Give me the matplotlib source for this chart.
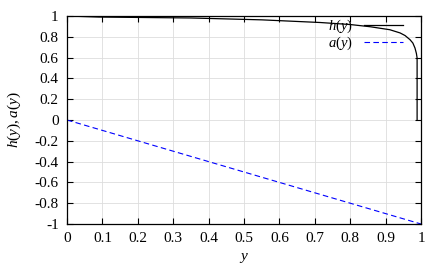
import numpy as np
import matplotlib
matplotlib.use("Agg")
from matplotlib import pyplot as plt

# values
y_h = [0.0, 0.09, 0.35, 0.55, 0.715, 0.80, 0.856, 0.912, 0.941, 0.955, 0.969,
       0.977, 0.983, 0.987, 0.989, 0.989]
h = [1.0, 0.99, 0.981, 0.963, 0.9375, 0.918, 0.897, 0.868, 0.837, 0.812, 0.772,
     0.74, 0.692, 0.64, 0.596, 0.0]
y_a = [0.0, 1.0]
a = [0.0, -1.0]

xticks = np.arange(0, 1.01, 0.1)
yticks = np.arange(-1, 1.01, 0.2)

plt.rcParams['font.family'] = 'Liberation Serif'
plt.rcParams['mathtext.fontset'] = 'custom'
plt.rcParams['mathtext.rm'] = 'Liberation Serif'
plt.rcParams['mathtext.it'] = 'Liberation Serif:italic'

fig = plt.figure(figsize=(4.45, 2.67), dpi=100)
ax = fig.add_axes([67/445, 1-224/267, 354/445, 208/267])

ax.plot(y_h, h, color='black', lw=0.9, label=r'$h(y)$')
ax.plot(y_a, a, color='#0000ff', lw=0.8, dashes=(5, 3), label=r'$a(y)$')

ax.set_xlim(0, 1)
ax.set_ylim(-1, 1)
ax.set_xticks(xticks)
ax.set_yticks(yticks)
ax.set_xticklabels(['0' if abs(v) < 1e-9 else ('1' if abs(v-1) < 1e-9 else '%.1f' % v) for v in xticks])
ax.set_yticklabels(['%g' % round(v, 1) if abs(v) > 1e-9 else '0' for v in yticks])
ax.tick_params(direction='in', length=4, width=0.8, top=True, right=True,
               labelsize=11, pad=6)
ax.grid(True, color='#dddddd', lw=0.6)
for s in ax.spines.values():
    s.set_linewidth(0.9)

ax.set_xlabel(r'$y$', fontsize=11, labelpad=4)
ax.set_ylabel(r'$h(y), a(y)$', fontsize=11, labelpad=8)

ax.legend(loc='upper right', bbox_to_anchor=(0.975, 1.035), frameon=False,
          markerfirst=False, handlelength=2.7, handletextpad=0.75,
          labelspacing=0.0, borderpad=0.1, fontsize=10.5)

fig.savefig('out.png', dpi=100)
